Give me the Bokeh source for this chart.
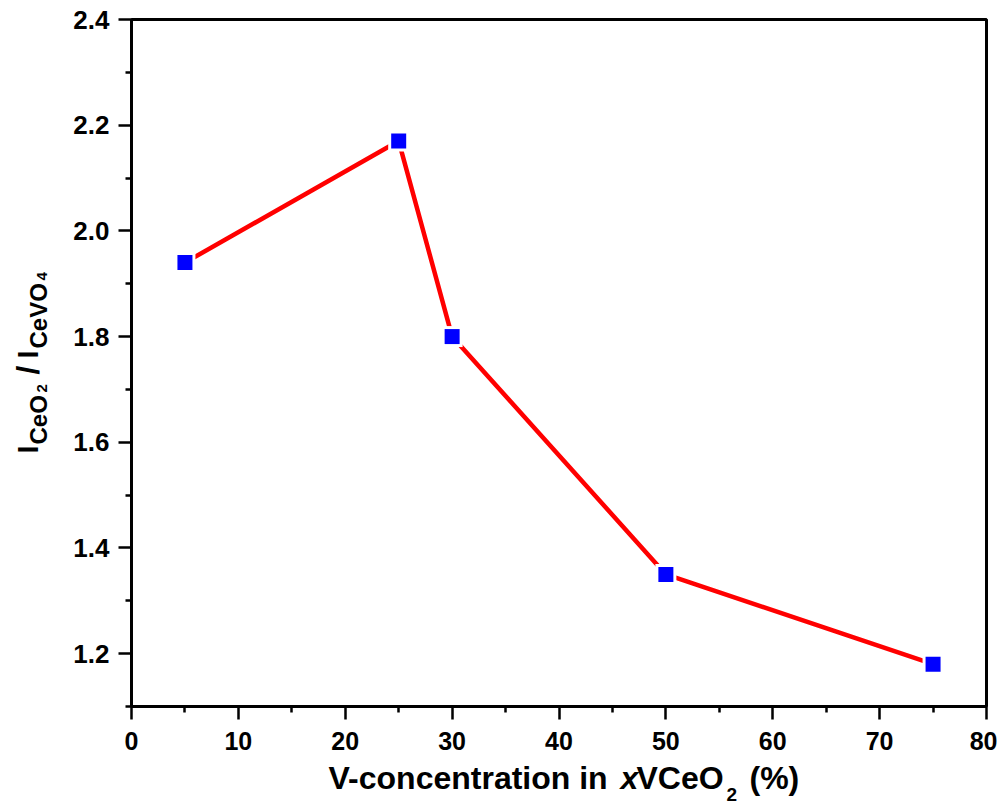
import math
from bokeh.plotting import figure
from bokeh.layouts import row, column
from bokeh.models import Range1d, FixedTicker, PrintfTickFormatter
from bokeh.core.properties import value
from bokeh.embed import file_html
from bokeh.resources import INLINE

# ---- data ----
v_conc = [5, 25, 30, 50, 75]
ratio = [1.94, 2.17, 1.80, 1.35, 1.18]
x_major = [0, 10, 20, 30, 40, 50, 60, 70, 80]
x_minor = [5, 15, 25, 35, 45, 55, 65, 75]
y_major = [1.2, 1.4, 1.6, 1.8, 2.0, 2.2, 2.4]
y_minor = [1.1, 1.3, 1.5, 1.7, 1.9, 2.1, 2.3]

# ---- layout (pixels) ----
TOTAL_W, TOTAL_H = 997, 806
LW = 60                       # left strip holding the y title
MW = TOTAL_W - LW             # main figure width
MH = 756                      # main figure height
BH = TOTAL_H - MH             # bottom strip holding the x title
FL, FR, FT, FB = 131, 986, 19, 706   # frame edges in page pixels
FONT = "Liberation Sans"
SHIFT = 0.31                  # baseline correction (fraction of font size)

p = figure(width=MW, height=MH, x_range=Range1d(0, 80), y_range=Range1d(1.1, 2.4),
           output_backend="svg", toolbar_location=None,
           min_border_left=FL - LW, min_border_right=LW + MW - FR,
           min_border_top=FT, min_border_bottom=MH - FB)
p.background_fill_color = "white"
p.border_fill_color = "white"
p.xgrid.visible = False
p.ygrid.visible = False
p.outline_line_color = "black"
p.outline_line_width = 3
p.outline_line_alpha = 1.0

for ax, maj, mnr in ((p.xaxis[0], x_major, x_minor), (p.yaxis[0], y_major, y_minor)):
    ax.ticker = FixedTicker(ticks=maj, minor_ticks=mnr)
    ax.axis_line_width = 3
    ax.axis_line_color = "black"
    ax.major_tick_line_width = 2.5
    ax.minor_tick_line_width = 2.5
    ax.major_tick_in = 0
    ax.minor_tick_in = 0
    ax.major_tick_out = 13
    ax.minor_tick_out = 6
    ax.major_label_text_font = FONT
    ax.major_label_text_font_style = "bold"
    ax.major_label_text_color = "black"
    ax.axis_label = None

p.xaxis[0].major_label_text_font_size = "25px"
p.xaxis[0].major_label_standoff = 12
p.yaxis[0].major_label_text_font_size = "26px"
p.yaxis[0].major_label_standoff = 9
p.yaxis[0].formatter = PrintfTickFormatter(format="%.1f")

# ---- series ----
p.line(v_conc, ratio, line_color="#FF0000", line_width=4.5)
p.scatter(v_conc, ratio, marker="square", size=21, fill_color="white", line_color=None)
p.scatter(v_conc, ratio, marker="square", size=15, fill_color="#0000FF", line_color=None)


def strip(w, h, x0, x1, y0, y1, bl=0, br=0):
    f = figure(width=w, height=h, x_range=Range1d(x0, x1), y_range=Range1d(y1, y0),
               output_backend="svg", toolbar_location=None,
               min_border=0, min_border_left=bl, min_border_right=br,
               min_border_top=0, min_border_bottom=0)
    f.axis.visible = False
    f.xgrid.visible = False
    f.ygrid.visible = False
    f.outline_line_color = None
    f.background_fill_color = "white"
    f.border_fill_color = "white"
    return f


def put(f, text, x, y, size, style="bold", angle=0.0):
    if angle:
        x -= SHIFT * size
    else:
        y -= SHIFT * size
    f.text(x=[x], y=[y], text=[text], text_font=value(FONT),
           text_font_size=value(f"{size}px"), text_font_style=style,
           text_color="black", text_align="left", text_baseline="alphabetic",
           angle=angle)


# y title strip: data coords = page pixels (y downward)
ys = strip(LW, TOTAL_H, 0, LW, 0, TOTAL_H)
R = math.pi / 2
put(ys, "I", 36, 453, 29, angle=R)
put(ys, "CeO", 45, 444, 24, angle=R)
put(ys, "2", 46, 392, 15, angle=R)
put(ys, "/", 37, 374, 32, angle=R)
put(ys, "I", 36, 358, 29, angle=R)
put(ys, "CeVO", 45, 348, 24, angle=R)
put(ys, "4", 46, 280, 15, angle=R)

# x title strip: frame spans the same page columns as the main frame
xs = strip(MW, BH, FL, FR, MH, TOTAL_H, bl=FL - LW, br=LW + MW - FR)
put(xs, "V-concentration in", 328, 787, 32)
put(xs, "x", 620, 787, 32, "bold italic")
put(xs, "VCeO", 636, 787, 32)
put(xs, "2", 726, 800, 19)
put(xs, "(%)", 749, 787, 32)

layout = row(ys, column(p, xs, spacing=0), spacing=0)
open("out.html", "w").write(file_html(layout, INLINE))
